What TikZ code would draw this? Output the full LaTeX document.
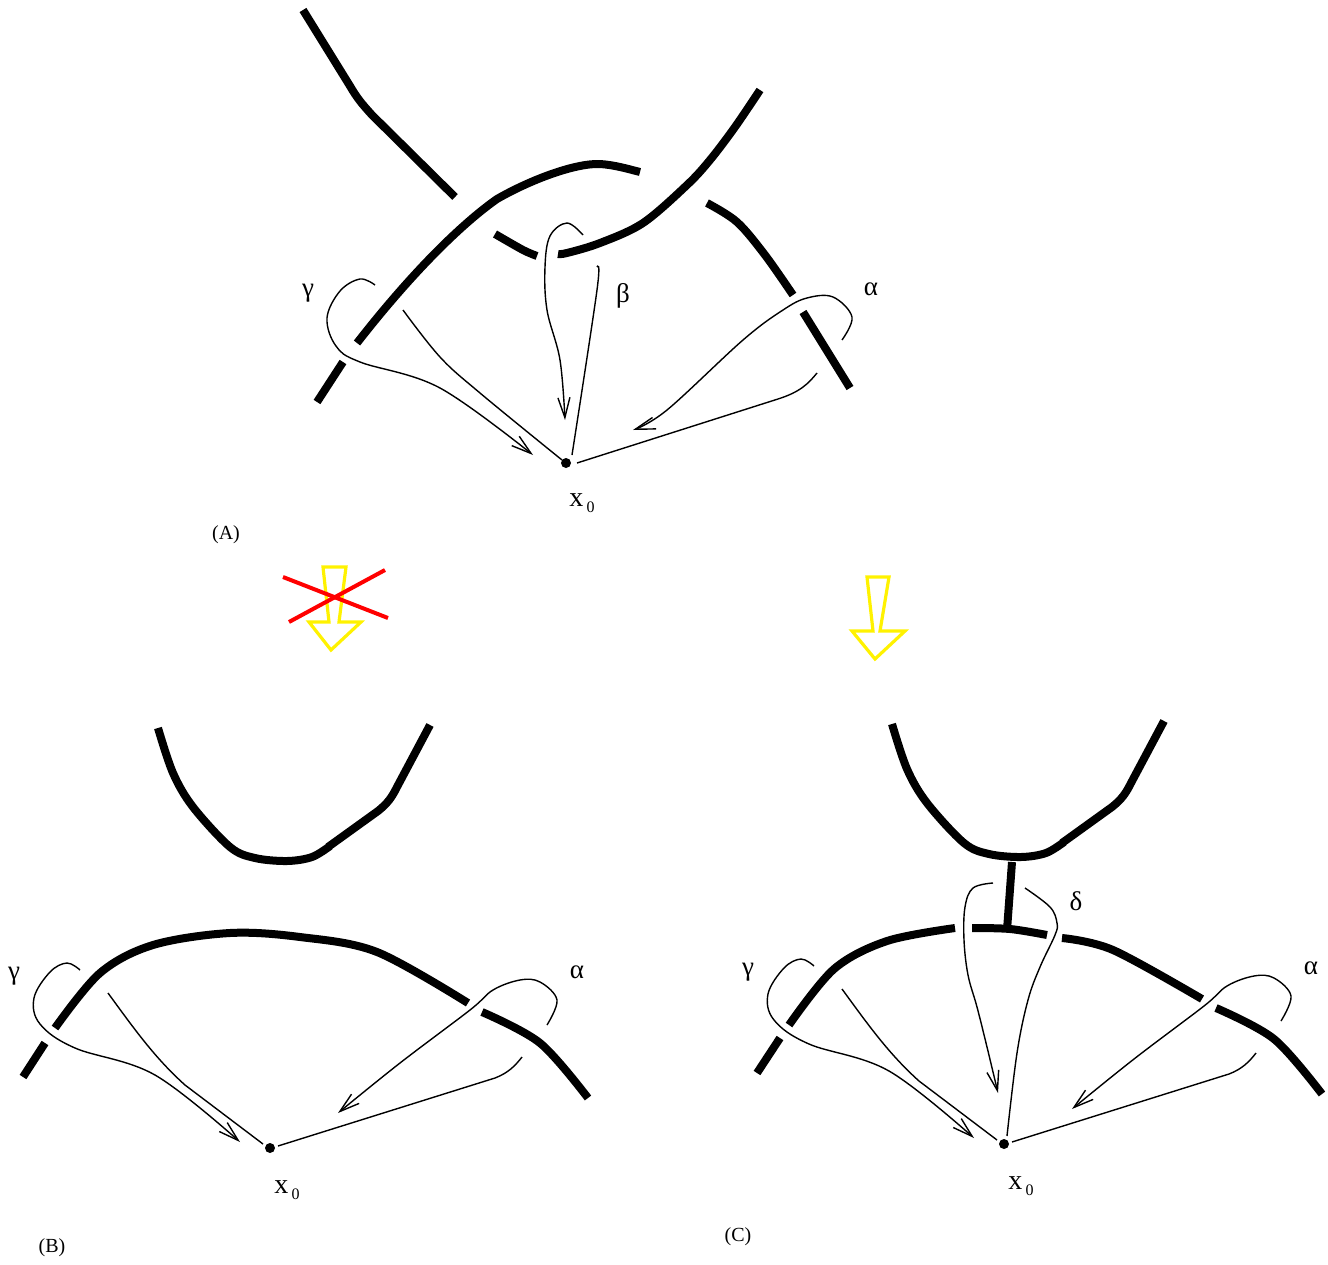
\documentclass[tikz,border=0pt]{standalone}
\usepackage{fontspec}
\setmainfont{Liberation Serif}
\usetikzlibrary{arrows.meta}
\newcommand\xnoughtlabel{{\fontsize{14pt}{14pt}\selectfont x}\,\raisebox{-3pt}{\fontsize{8pt}{8pt}\selectfont 0}}
\begin{document}
\begin{tikzpicture}[x=0.5pt,y=-0.5pt,
  strand/.style={line width=4pt},
  thinline/.style={line width=0.7pt},
  arr/.style={-{Straight Barb[length=10pt,width=6pt,line width=0.7pt]}},
  dotnode/.style={circle,fill=black,inner sep=0pt,minimum size=5pt},
  lbl/.style={font=\fontsize{13.5pt}{13.5pt}\selectfont, inner sep=0pt},
  panel/.style={font=\fontsize{10pt}{10pt}\selectfont, inner sep=0pt},
  yarrow/.style={draw=yellow, line width=1.6pt, line join=miter},
  redx/.style={draw=red, line width=2pt},
  bottompart/.pic={
    % upper curve
    \draw[strand] plot[smooth, tension=0.55] coordinates {(158,728) (173,773) (193,807) (230,847) (255,858) (287,861) (312,857) (330,846)};
    \draw[strand] (328,847) -- (378,811) .. controls (388,803) and (392,797) .. (397,787) -- (430,725);
    % gamma loop
    \draw[thinline, arr] plot[smooth, tension=0.6] coordinates {(80,970) (67,963) (50,972) (34,998) (40,1024) (75,1048) (155,1075) (240,1142)};
    \draw[thinline] (108,993) .. controls (135,1030) and (155,1058) .. (185,1085) -- (263,1144);
    % alpha loop
    \draw[thinline, arr] plot[smooth, tension=0.6] coordinates {(547,1025) (557,1000) (540,982) (520,980) (493,990) (470,1010) (400,1063) (338,1113)};
    \draw[thinline] (278,1146) -- (495,1078) .. controls (508,1073) and (515,1066) .. (522,1057);
    \node[dotnode] (dot) at (270,1148) {};
    \node[lbl] (gam) at (14,976) {γ};
    \node[lbl] (alp) at (577,972) {α};
    \node[inner sep=0pt] (xlab) at (287,1190) {\xnoughtlabel};
  }]
\useasboundingbox (0,0) rectangle (1328,1264);

% ================= Panel A =================
% strand 1 (top left)
\draw[strand] (303,10) -- (350,86) .. controls (357,98) and (362,104) .. (372,115) -- (455,197);
% strand 2 (big arc)
\draw[strand] (317,402) -- (343,362);
\draw[strand] (357,343) .. controls (410,275) and (460,225) .. (497,199) .. controls (530,180) and (575,163) .. (600,164) .. controls (615,165) and (628,169) .. (640,172);
\draw[strand] plot[smooth, tension=0.55] coordinates {(707,203) (737,222) (765,255) (793,295)};
\draw[strand] (803,312) -- (850,388);
% strand 3
\draw[strand] plot[smooth, tension=0.55] coordinates {(760,90) (735,127) (710,160) (687,185) (643,223) (600,243) (567,253) (558,254)};
\draw[strand] plot[smooth, tension=0.5] coordinates {(537,256) (523,250) (495,234)};
% gamma loop
\draw[thinline, arr] plot[smooth, tension=0.6] coordinates {(375,285) (360,279) (340,291) (327,318) (336,346) (360,362) (440,388) (533,455)};
\draw[thinline] plot[smooth, tension=0.6] coordinates {(403,310) (440,357) (480,393) (562,460)};
% beta loop
\draw[thinline, arr] plot[smooth, tension=0.6] coordinates {(583,235) (567,223) (550,236) (545,267) (547,310) (560,360) (565,420)};
\draw[thinline] plot[smooth, tension=0.6] coordinates {(597,267) (597,290) (572,455)};
% alpha loop
\draw[thinline, arr] plot[smooth, tension=0.6] coordinates {(842,340) (852,317) (833,297) (807,298) (783,310) (743,340) (667,410) (633,430)};
\draw[thinline] (577,463) -- (778,399) .. controls (800,392) and (808,384) .. (817,373);
\node[dotnode] (xA) at (566,463) {};
\node[lbl] (gamA) at (308,293) {γ};
\node[lbl] (betA) at (623,296) {β};
\node[lbl] (alpA) at (871,289) {α};
\node[inner sep=0pt] (xlabA) at (582,503) {\xnoughtlabel};
\node[panel] (labA) at (226,535) {(A)};

% ================= yellow arrows =================
\draw[yarrow] (323,567) -- (346,567) -- (339,622) -- (361,622) -- (331,650) -- (309,622) -- (329,622) -- cycle;
\draw[redx] (283,577) -- (388,618);
\draw[redx] (385,570) -- (289,622);
\draw[yarrow] (867,577) -- (889,577) -- (880,631) -- (905,631) -- (875,659) -- (852,631) -- (873,631) -- cycle;

% ================= Panel B =================
\pic (B) at (0,0) {bottompart};
\draw[strand] (23,1077) -- (45,1043);
\draw[strand] plot[smooth, tension=0.55] coordinates {(55,1028) (100,973) (153,945) (230,933) (300,937) (377,952) (468,1003)};
\draw[strand] plot[smooth, tension=0.55] coordinates {(482,1012) (540,1043) (588,1098)};
\node[panel] (labB) at (52,1248) {(B)};

% ================= Panel C =================
\pic (C) at (734,-4) {bottompart};
\draw[strand] (757,1073) -- (780,1038);
\draw[strand] plot[smooth, tension=0.55] coordinates {(789,1025) (834,969) (887,941) (955,928)};
\draw[strand] plot[smooth, tension=0.55] coordinates {(972,928) (1010,929) (1047,935)};
\draw[strand] plot[smooth, tension=0.55] coordinates {(1062,938) (1113,950) (1202,999)};
\draw[strand] plot[smooth, tension=0.55] coordinates {(1216,1008) (1274,1039) (1322,1094)};
% delta band
\draw[strand] (1012,862) -- (1007,930);
% delta loop
\draw[thinline, arr] plot[smooth, tension=0.6] coordinates {(993,883) (973,888) (965,907) (964,940) (968,975) (977,1007) (987,1047) (998,1093)};
\draw[thinline] plot[smooth, tension=0.6] coordinates {(1025,888) (1050,907) (1057,923) (1055,935) (1040,967) (1028,1000) (1017,1053) (1007,1136)};
\node[lbl] (delC) at (1076,901) {δ};
\node[panel] (labC) at (738,1237) {(C)};
\end{tikzpicture}
\end{document}
